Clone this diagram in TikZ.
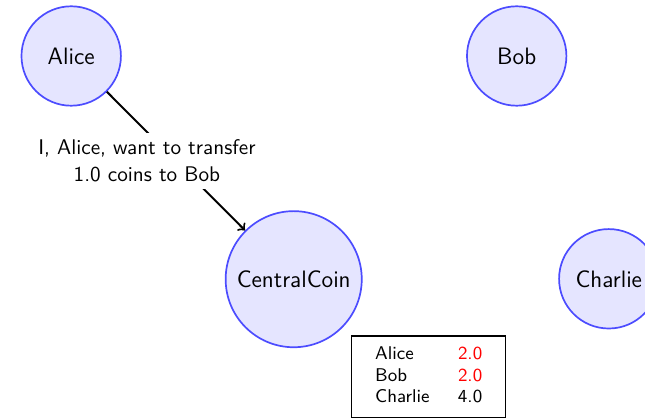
\documentclass[tikz,border=0pt]{standalone}
\begin{document}
\begin{tikzpicture}[x=0.4717pt, y=-0.4717pt,
  party/.style={circle, draw=blue!70, fill=blue!10, line width=0.8pt,
    minimum size=46.9pt, inner sep=0pt,
    font=\sffamily\fontsize{11.2}{13.4}\selectfont},
  hub/.style={party, minimum size=64.2pt},
  msg/.style={fill=white, align=center,
    font=\sffamily\fontsize{10}{12.6}\selectfont},
  ledger/.style={draw, line width=0.6pt, minimum width=72.6pt,
    minimum height=38.3pt, inner sep=0pt,
    font=\sffamily\fontsize{8.7}{10.2}\selectfont},
  transfer/.style={->, line width=0.95pt}]
\useasboundingbox (0,0) rectangle (645,418);

% participants
\node[party] (alice)   at (71.2,56)    {Alice};
\node[party] (bob)     at (516.7,56)   {Bob};
\node[party] (charlie) at (608.8,278.8) {Charlie};
\node[hub]   (central) at (293.7,279.2) {CentralCoin};

% transfer request
\draw[transfer] (alice) -- (central)
  node[msg, midway, xshift=-13.7pt] (request)
  {I, Alice, want to transfer\\1.0 coins to Bob};

% balances
\node[ledger] (balances) at (428.7,376.7) {%
  \begin{tabular}{@{}l@{\hspace{13.4pt}}l@{}}
    Alice   & \textcolor{red}{2.0}\\
    Bob     & \textcolor{red}{2.0}\\
    Charlie & 4.0
  \end{tabular}};
\end{tikzpicture}
\end{document}
